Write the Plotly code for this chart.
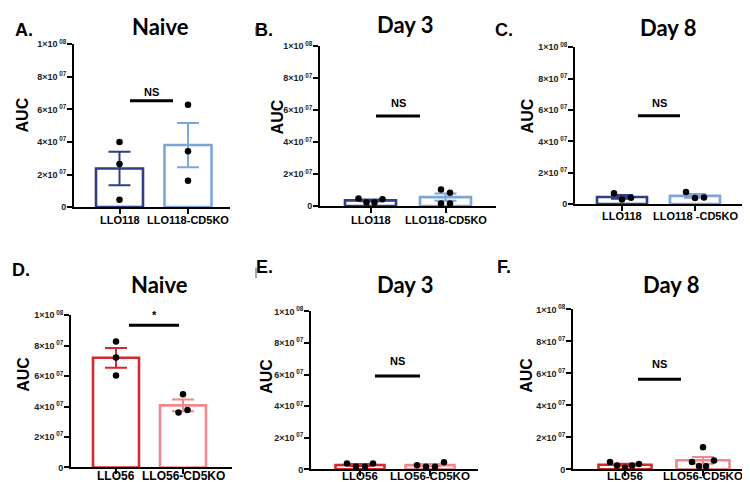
import plotly.graph_objects as go

# ---------------- data ----------------
panel_letters = ["A.", "B.", "C.", "D.", "E.", "F."]
panel_titles = ["Naive", "Day 3", "Day 8", "Naive", "Day 3", "Day 8"]

categories_A = ["LLO118", "LLO118-CD5KO"]
categories_B = ["LLO118", "LLO118-CD5KO"]
categories_C = ["LLO118", "LLO118 -CD5KO"]
categories_D = ["LLO56", "LLO56-CD5KO"]
categories_E = ["LLO56", "LLO56-CD5KO"]
categories_F = ["LLO56", "LLO56-CD5KO"]

means_A = [2.37e7, 3.81e7]
sem_A = [1.03e7, 1.36e7]
points_A_ctrl = [4.00e7, 2.64e7, 0.45e7]
points_A_ko = [6.29e7, 3.43e7, 1.62e7]

means_B = [0.36e7, 0.56e7]
sem_B = [0.06e7, 0.23e7]
points_B_ctrl = [0.47e7, 0.22e7, 0.22e7, 0.43e7]
points_B_ko = [1.04e7, 0.83e7, 0.16e7, 0.16e7]

means_C = [0.46e7, 0.53e7]
sem_C = [0.12e7, 0.12e7]
points_C_ctrl = [0.70e7, 0.29e7, 0.41e7]
points_C_ko = [0.77e7, 0.39e7, 0.43e7]

means_D = [7.21e7, 4.08e7]
sem_D = [0.65e7, 0.38e7]
points_D_ctrl = [8.28e7, 7.23e7, 6.04e7]
points_D_ko = [4.81e7, 3.62e7, 3.77e7]

means_E = [0.28e7, 0.27e7]
sem_E = [0.06e7, 0.07e7]
points_E_ctrl = [0.37e7, 0.16e7, 0.16e7, 0.37e7]
points_E_ko = [0.27e7, 0.16e7, 0.16e7, 0.45e7]

means_F = [0.29e7, 0.57e7]
sem_F = [0.06e7, 0.21e7]
points_F_ctrl = [0.47e7, 0.24e7, 0.10e7, 0.24e7, 0.33e7]
points_F_ko = [0.47e7, 1.38e7, 0.20e7, 0.20e7, 0.55e7]

sig_labels = ["NS", "NS", "NS", "*", "NS", "NS"]
sig_heights = [6.53e7, 5.64e7, 5.64e7, 9.34e7, 5.92e7, 5.63e7]

ytick_vals = [0, 2e7, 4e7, 6e7, 8e7, 1e8]
ytick_text = ["0", "2×10<sup> 07</sup>", "4×10<sup> 07</sup>", "6×10<sup> 07</sup>",
              "8×10<sup> 07</sup>", "1×10<sup> 08</sup>"]
y_label = "AUC"

# ---------------- layout / style ----------------
W, H = 750, 482
BLUE_DARK, BLUE_LIGHT = "#2e3e88", "#7ea5d7"
RED_DARK, RED_LIGHT = "#d6282f", "#ef898e"

data_sets = [
    (categories_A, means_A, sem_A, points_A_ctrl, points_A_ko),
    (categories_B, means_B, sem_B, points_B_ctrl, points_B_ko),
    (categories_C, means_C, sem_C, points_C_ctrl, points_C_ko),
    (categories_D, means_D, sem_D, points_D_ctrl, points_D_ko),
    (categories_E, means_E, sem_E, points_E_ctrl, points_E_ko),
    (categories_F, means_F, sem_F, points_F_ctrl, points_F_ko),
]

# pixel geometry for each panel: y-axis x, x-axis right end, top(1e8), bottom(0), centers, bar width,
# x label font size and x label centre line
geo = [
    dict(left=66, right=222, top=30, bottom=197, c0=111.5, c1=180, bw=47, xfs=11, ly=210),
    dict(left=312, right=488, top=32, bottom=196, c0=362.5, c1=437.5, bw=51, xfs=11, ly=210),
    dict(left=567, right=738, top=33, bottom=194, c0=614, c1=687, bw=50, xfs=11, ly=206),
    dict(left=63, right=224, top=308, bottom=464, c0=108, c1=175, bw=46, xfs=12, ly=472.5),
    dict(left=303, right=470, top=304, bottom=466, c0=352, c1=422, bw=49, xfs=11.5, ly=473),
    dict(left=565, right=748, top=302, bottom=466, c0=617, c1=695, bw=53, xfs=11.5, ly=473),
]
# swarm offsets of the dots (pixels from bar centre)
jitter = [
    ([0, 0, 0], [0, 0, 0]),
    ([-12, -4, 4, 12], [-4.5, 4.5, -4.5, 4.5]),
    ([-8, 0, 9], [-9, 0, 9]),
    ([0, 0, 0], [0, -4.5, 4.5]),
    ([-13, -4, 5, 13], [-13, -4, 5, 14]),
    ([-15, -8, 0, 7, 14], [-11, 0, -4, 3, 11]),
]
# significance bar ends (pixels)
sig_px = [(122, 165), (368, 412), (630, 672), (121, 171), (367, 412), (630, 673)]
sig_text_gap = [9, 13, 13, 11, 15, 16]
title_pos = [(152, 12), (397, 10), (660, 13), (151, 276), (397, 276), (663, 276)]
letter_pos = [(16, 15), (256, 15), (496, 15), (13, 261), (256, 258), (496, 258)]
ylabel_pos = [(14, 103), (269, 105), (519, 104), (16, 369), (259, 371), (519, 370)]

fig = go.Figure()
shapes, annotations = [], []

def fx(px):
    return px / W

def fy(py):
    return 1 - py / H

for i, (cats, means, sems, pc, pk) in enumerate(data_sets):
    g = geo[i]
    s = g["c1"] - g["c0"]
    xa = "x" if i == 0 else f"x{i+1}"
    ya = "y" if i == 0 else f"y{i+1}"
    cols = (BLUE_DARK, BLUE_LIGHT) if i < 3 else (RED_DARK, RED_LIGHT)
    for k in range(2):
        fig.add_trace(go.Bar(
            x=[k], y=[means[k]], width=g["bw"] / s,
            marker=dict(color="white", line=dict(color=cols[k], width=2.6)),
            error_y=dict(type="data", array=[sems[k]], color=cols[k], thickness=2, width=11),
            xaxis=xa, yaxis=ya, showlegend=False, hoverinfo="skip",
        ))
    for k, pts in enumerate((pc, pk)):
        offs = jitter[i][k]
        fig.add_trace(go.Scatter(
            x=[k + o / s for o in offs], y=pts, mode="markers",
            marker=dict(color="black", size=6.5),
            xaxis=xa, yaxis=ya, showlegend=False, hoverinfo="skip",
        ))
    xr = [(g["left"] - g["c0"]) / s, (g["right"] - g["c0"]) / s]
    xkey = "xaxis" if i == 0 else f"xaxis{i+1}"
    ykey = "yaxis" if i == 0 else f"yaxis{i+1}"
    fig.update_layout(**{
        xkey: dict(domain=[fx(g["left"]), fx(g["right"])], range=xr, anchor=ya,
                   tickvals=[0, 1], showticklabels=False, showline=True, linecolor="black",
                   linewidth=2, ticks="outside", ticklen=5, tickwidth=2, tickcolor="black",
                   showgrid=False, zeroline=False, fixedrange=True),
        ykey: dict(domain=[fy(g["bottom"]), fy(g["top"])], range=[0, 1e8], anchor=xa,
                   tickvals=ytick_vals, ticktext=ytick_text, showline=True, linecolor="black",
                   linewidth=2, ticks="outside", ticklen=5, tickwidth=1.5, tickcolor="black",
                   ticklabelstandoff=-1,
                   showgrid=False, zeroline=False, fixedrange=True,
                   tickfont=dict(family="Liberation Sans", size=9, color="#222", weight="bold")),
    })
    # category labels under the x axis
    for k, c in enumerate(cats):
        annotations.append(dict(text=c, xref=xa, yref="paper", x=k, y=fy(g["ly"]),
                                showarrow=False, xanchor="center", yanchor="middle",
                                borderpad=0,
                                font=dict(family="Liberation Sans", size=g["xfs"],
                                          color="black", weight="bold")))
    # significance bar
    x0 = (sig_px[i][0] - g["c0"]) / s
    x1 = (sig_px[i][1] - g["c0"]) / s
    shapes.append(dict(type="line", xref=xa, yref=ya, x0=x0, x1=x1,
                       y0=sig_heights[i], y1=sig_heights[i],
                       line=dict(color="black", width=3)))
    ypx = g["bottom"] - (g["bottom"] - g["top"]) * sig_heights[i] / 1e8
    annotations.append(dict(text=sig_labels[i], xref="paper", yref="paper",
                            x=fx((sig_px[i][0] + sig_px[i][1]) / 2), y=fy(ypx - sig_text_gap[i]),
                            showarrow=False, xanchor="center", yanchor="middle",
                            font=dict(family="Liberation Sans", size=11, color="black", weight="bold")))
    # title
    annotations.append(dict(text=panel_titles[i], xref="paper", yref="paper",
                            x=fx(title_pos[i][0]), y=fy(title_pos[i][1]), showarrow=False,
                            xanchor="center", yanchor="middle",
                            font=dict(family="Lato", size=22, color="black", weight="bold")))
    # panel letter
    annotations.append(dict(text=panel_letters[i], xref="paper", yref="paper",
                            x=fx(letter_pos[i][0]), y=fy(letter_pos[i][1]), showarrow=False,
                            xanchor="center", yanchor="middle",
                            font=dict(family="Liberation Sans", size=18, color="black", weight="bold")))
    # y label
    annotations.append(dict(text=y_label, xref="paper", yref="paper",
                            x=fx(ylabel_pos[i][0]), y=fy(ylabel_pos[i][1]), showarrow=False,
                            xanchor="center", yanchor="middle", textangle=-90,
                            font=dict(family="Liberation Sans", size=16, color="black", weight="bold")))

# small stitching marks visible in the source figure
for (mx, my0, my1) in [(248, 12, 21), (248, 259, 270)]:
    shapes.append(dict(type="line", xref="paper", yref="paper", x0=fx(mx), x1=fx(mx),
                       y0=fy(my0), y1=fy(my1), line=dict(color="#555", width=1)))

fig.update_layout(width=W, height=H, margin=dict(l=0, r=0, t=0, b=0),
                  paper_bgcolor="white", plot_bgcolor="white", barmode="overlay",
                  shapes=shapes, annotations=annotations)
fig.write_html("out.html")
